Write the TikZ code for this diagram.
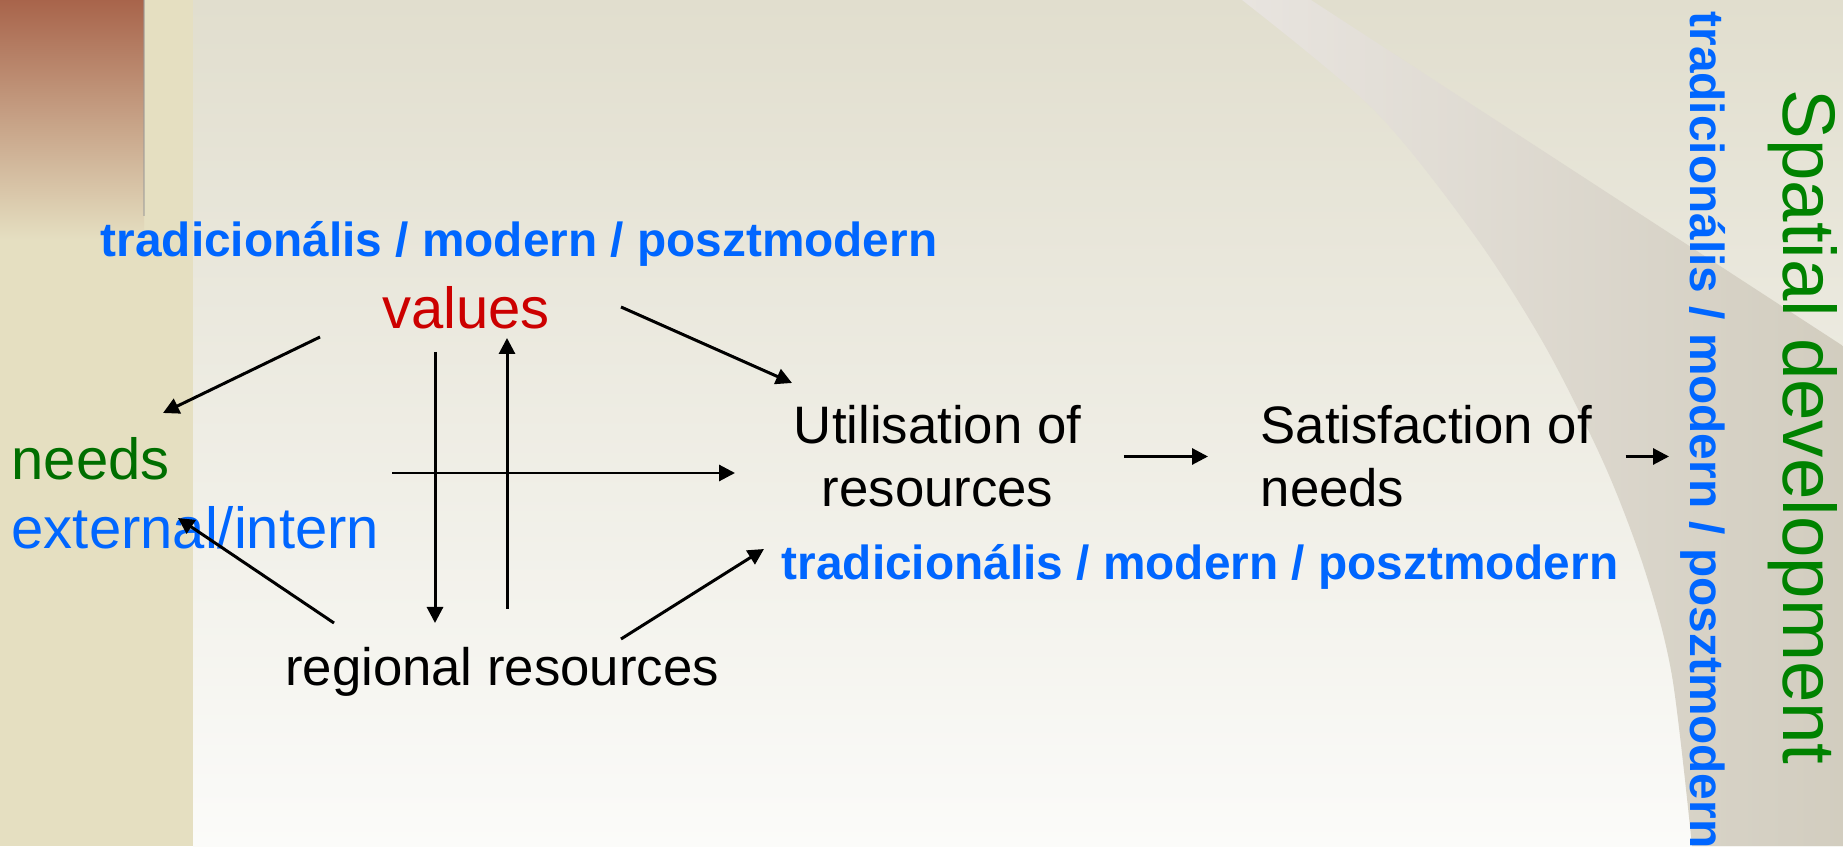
\documentclass[tikz,border=0pt]{standalone}
\usepackage{fontspec}
\setmainfont{Liberation Sans}
\usetikzlibrary{arrows.meta,calc}
\definecolor{sdblue}{HTML}{0066FF}
\definecolor{sdred}{HTML}{CC0000}
\definecolor{sdgreen}{HTML}{006E00}
\definecolor{sdspatial}{HTML}{008200}
\definecolor{sdstrip}{HTML}{E5DFC1}
\definecolor{sdbrown}{HTML}{A8644B}
\definecolor{sdtop}{HTML}{E1DECE}
\definecolor{sdbottom}{HTML}{FBFBF9}
\definecolor{sdswoosh}{HTML}{E8E4DF}
\definecolor{sdshade}{HTML}{D2CDBF}
\tikzset{
  sd text/.style={
    inner sep=0pt,
    text=black,
    font=\fontsize{15pt}{17.9pt}\selectfont,
  },
  sd key/.style={
    inner sep=0pt,
    font=\fontsize{16.5pt}{19.8pt}\selectfont,
  },
  sd era/.style={
    inner sep=0pt,
    text=sdblue,
    font=\fontsize{13.6pt}{16.3pt}\selectfont\bfseries,
  },
  sd title/.style={
    inner sep=0pt,
    text=sdspatial,
    font=\fontsize{21.2pt}{25.4pt}\selectfont,
  },
  sd flow/.style={-{Triangle[length=0.16cm, width=0.16cm]}, line width=0.85pt, draw=black},
}

\begin{document}
\begin{tikzpicture}
  \useasboundingbox (0,0) rectangle (18.43cm,8.46cm);

  % --- Slide background ---
  \shade[top color=sdtop, bottom color=sdbottom] (1.93cm,0) rectangle (18.43cm,8.46cm);
  \fill[sdstrip] (0,0) rectangle (1.93cm,8.46cm);
  \shade[top color=sdbrown, bottom color=sdstrip] (0,6.06cm) rectangle (1.44cm,8.46cm);
  \draw[black!40, opacity=0.5, line width=0.8pt] (1.44cm,6.3cm) -- (1.44cm,8.46cm);

  % --- Curved band on the right ---
  \shade[left color=sdswoosh, right color=sdshade]
    (12.42cm,8.46cm) -- (13.11cm,8.46cm) -- (18.43cm,5.00cm) -- (18.43cm,0) -- (16.92cm,0)
    -- plot[smooth] coordinates {(16.92cm,0) (16.72cm,1.70cm) (16.45cm,2.75cm)
       (16.05cm,3.80cm) (15.45cm,5.00cm) (14.75cm,6.10cm) (13.75cm,7.35cm) (12.42cm,8.46cm)}
    -- cycle;

  % --- Inputs: values, needs, regional resources ---
  \node[sd era, anchor=base] (eratop) at (5.19cm,5.89cm) {tradicionális / modern / posztmodern};
  \node[sd key, text=sdred, anchor=base] (values) at (4.66cm,5.17cm) {values};
  \node[sd key, text=sdgreen, anchor=base west] (needs) at (0.11cm,3.66cm) {needs};
  \node[sd key, text=sdblue, anchor=base west] (extint) at (0.11cm,2.97cm) {external/intern};
  \node[sd text, anchor=base] (regional) at (5.02cm,1.61cm) {regional resources};

  % --- Chain: utilisation -> satisfaction -> development ---
  \node[sd text, align=center] (util) at (9.375cm,3.895cm) {Utilisation of\\resources};
  \node[sd text, align=left, anchor=west] (satis) at (12.60cm,3.895cm) {Satisfaction of\\needs};
  \node[sd era, anchor=base] (eralow) at (12.00cm,2.66cm) {tradicionális / modern / posztmodern};
  \node[sd era, rotate=-90, anchor=base west] (eraside) at (16.90cm,8.35cm)
    {tradicionális / modern / posztmodern};
  \node[sd title, rotate=-90, anchor=base west] (spatial) at (17.83cm,7.57cm) {Spatial development};

  % Free arrow ends
  \coordinate (vneedsA) at (3.20cm,5.09cm);
  \coordinate (vneedsB) at (1.63cm,4.33cm);
  \coordinate (vutilA) at (6.21cm,5.39cm);
  \coordinate (vutilB) at (7.92cm,4.63cm);
  \coordinate (downA) at (4.35cm,4.94cm);
  \coordinate (downB) at (4.35cm,2.23cm);
  \coordinate (upA) at (5.07cm,2.37cm);
  \coordinate (upB) at (5.07cm,5.08cm);
  \coordinate (crossA) at (3.92cm,3.73cm);
  \coordinate (crossB) at (7.35cm,3.73cm);
  \coordinate (rextA) at (3.34cm,2.23cm);
  \coordinate (rextB) at (1.78cm,3.28cm);
  \coordinate (rutilA) at (6.21cm,2.07cm);
  \coordinate (rutilB) at (7.64cm,2.97cm);
  \coordinate (sideB) at (16.69cm,3.895cm);

  % --- Arrows ---
  \draw[sd flow] (vneedsA) -- (vneedsB);
  \draw[sd flow] (vutilA) -- (vutilB);
  \draw[sd flow] (downA) -- (downB);
  \draw[sd flow] (upA) -- (upB);
  \draw[sd flow] (crossA) -- (crossB);
  \draw[sd flow] (rextA) -- (rextB);
  \draw[sd flow] (rutilA) -- (rutilB);
  \draw[sd flow, shorten <=0.42cm, shorten >=0.52cm] (util.east) -- (satis.west);
  \draw[sd flow, shorten <=0.33cm] (satis.east) -- (sideB);

\end{tikzpicture}
\end{document}
